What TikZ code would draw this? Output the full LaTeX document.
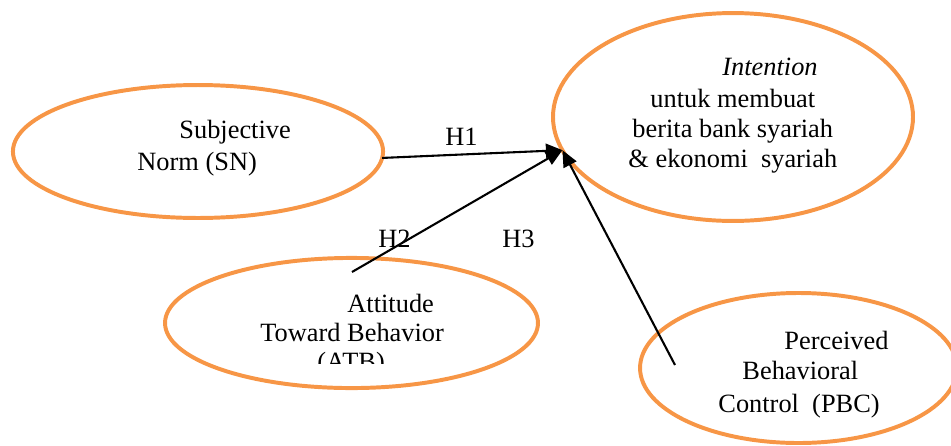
\documentclass[tikz,border=0pt]{standalone}
\usepackage{fontspec}
\setmainfont{Liberation Serif}
\usetikzlibrary{shapes.geometric,arrows.meta}
\newlength\pxu
\setlength\pxu{0.455pt}
\definecolor{ovalorange}{HTML}{F79646}
\begin{document}
\begin{tikzpicture}[x=\pxu,y=-\pxu,
  oval/.style={ellipse,draw=ovalorange,line width=1.8pt,inner sep=0pt,outer sep=0pt},
  lbl/.style={anchor=base west,inner sep=0pt,font=\fontsize{12}{14}\selectfont},
  link/.style={draw=black,line width=0.95pt,-{Triangle[length=7.5pt,width=6.5pt]}}]
\useasboundingbox (0,0) rectangle (951,445);
\clip (0,0) rectangle (951,445);
% ovals
\node[oval,minimum width=168.4pt,minimum height=60.5pt] (SN) at (198,151.5) {};
\node[oval,minimum width=163.8pt,minimum height=94.6pt] (INT) at (733,117) {};
\node[oval,minimum width=169.7pt,minimum height=59.2pt] (ATB) at (351.5,323) {};
\node[oval,minimum width=144.2pt,minimum height=68.25pt] (PBC) at (798.5,368) {};
% texts
\node[lbl] (sn1) at (179,138) {Subjective};
\node[lbl] (sn2) at (137,170) {Norm (SN)};
\node[lbl] (in1) at (722,75) {\textit{Intention}};
\node[lbl] (in2) at (650,107) {untuk membuat};
\node[lbl] (in3) at (632,137) {berita bank syariah};
\node[lbl] (in4) at (628,167) {\& ekonomi\ \ syariah};
\node[lbl] (at1) at (347,312) {Attitude};
\node[lbl] (at2) at (260,341) {Toward Behavior};
\begin{scope}
\clip (0,0) rectangle (951,363);
\node[lbl] (at3) at (317,370) {(ATB)};
\end{scope}
\node[lbl] (pb1) at (784,349) {Perceived};
\node[lbl] (pb2) at (742,379) {Behavioral};
\node[lbl] (pb3) at (718,412) {Control\ \ (PBC)};
% hypothesis labels
\node[lbl] (h1) at (445,145) {H1};
\node[lbl] (h2) at (378,247) {H2};
\node[lbl] (h3) at (502,247) {H3};
% connectors
\coordinate (tip) at (INT.191);
\coordinate (h2s) at (352,272);
\coordinate (h3s) at (675,365);
\draw[link] (SN.-2.6) -- (tip);
\draw[link] (h2s) -- (tip);
\draw[link] (h3s) -- (tip);
\end{tikzpicture}
\end{document}
